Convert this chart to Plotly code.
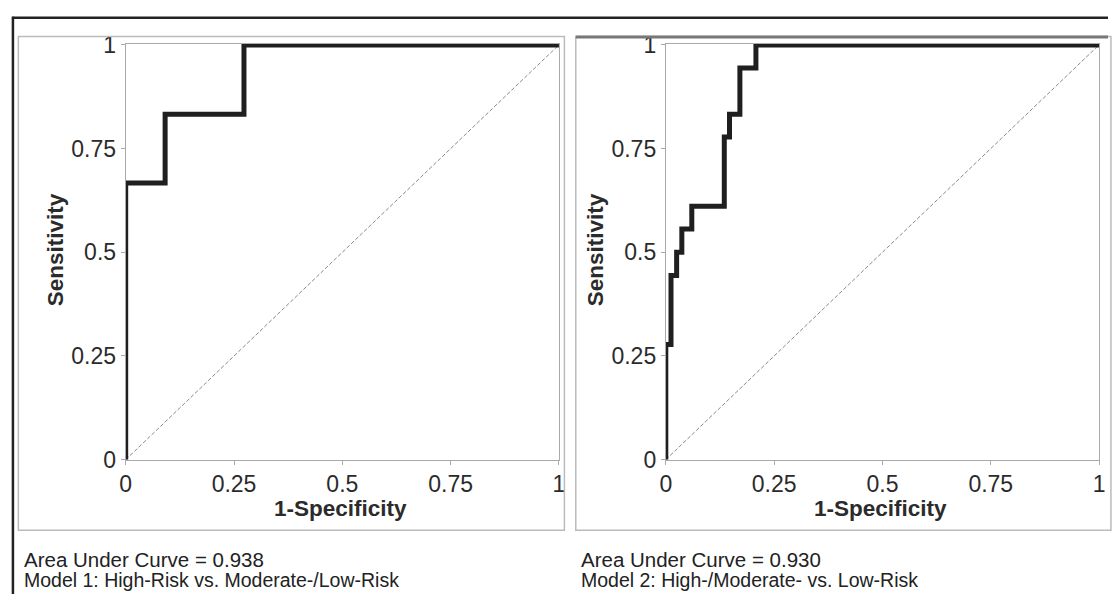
import plotly.graph_objects as go

W, H = 1112, 605

# ---- data ----
tick_vals = [0, 0.25, 0.5, 0.75, 1]
tick_text = ["0", "0.25", "0.5", "0.75", "1"]

fpr_model1 = [0, 0, 0.091, 0.273, 1.0]
tpr_model1 = [0, 0.667, 0.833, 1.0, 1.0]

fpr_model2 = [0, 0, 0.012, 0.025, 0.037, 0.060, 0.135, 0.147, 0.171, 0.208, 1.0]
tpr_model2 = [0, 0.278, 0.444, 0.500, 0.556, 0.611, 0.778, 0.833, 0.944, 1.0, 1.0]

ref_line = [0, 1]

auc_text = ["Area Under Curve = 0.938", "Area Under Curve = 0.930"]
model_text = ["Model 1: High-Risk vs. Moderate-/Low-Risk",
              "Model 2: High-/Moderate- vs. Low-Risk"]
x_title = "1-Specificity"
y_title = "Sensitivity"


def px(x):
    return x / W


def py(y):
    return 1 - y / H


FONT = "Liberation Sans, Arial, sans-serif"
fig = go.Figure()

for i, (fx, ty) in enumerate([(fpr_model1, tpr_model1), (fpr_model2, tpr_model2)]):
    xa = "x" if i == 0 else "x2"
    ya = "y" if i == 0 else "y2"
    fig.add_trace(go.Scatter(x=ref_line, y=ref_line, mode="lines", xaxis=xa, yaxis=ya,
                             line=dict(color="#8a8a8a", width=1, dash="4px,2px"),
                             hoverinfo="skip"))
    fig.add_trace(go.Scatter(x=fx, y=ty, mode="lines", xaxis=xa, yaxis=ya,
                             line=dict(color="#1f1f1f", width=5, shape="hv")))

axis_common = dict(
    showgrid=False, zeroline=False, showline=True, linecolor="#aaaaaa", linewidth=1,
    mirror=True, ticks="outside", ticklen=4, tickcolor="#aaaaaa",
    tickvals=tick_vals, ticktext=tick_text,
    tickfont=dict(family=FONT, size=23, color="#2b2b2b"),
)

fig.update_layout(
    width=W, height=H,
    margin=dict(l=0, r=0, t=0, b=0),
    paper_bgcolor="white", plot_bgcolor="white",
    showlegend=False,
    xaxis=dict(domain=[px(121), px(559)], range=[0, 1], anchor="y", **axis_common),
    yaxis=dict(domain=[py(467), py(33)], range=[0, 1.003], anchor="x", **axis_common),
    xaxis2=dict(domain=[px(667), px(1105)], range=[0, 1], anchor="y2", **axis_common),
    yaxis2=dict(domain=[py(467), py(33)], range=[0, 1.003], anchor="x2", **axis_common),
)

annotations = []
for i, (xc_plot, xc_ytitle, xleft) in enumerate([(338, 50, 16), (884, 596, 579)]):
    annotations.append(dict(text="<b>%s</b>" % x_title, xref="paper", yref="paper",
                            x=px(xc_plot), y=py(518), xanchor="center", yanchor="middle",
                            showarrow=False, font=dict(family=FONT, size=22.5, color="#2b2b2b")))
    annotations.append(dict(text="<b>%s</b>" % y_title, xref="paper", yref="paper",
                            x=px(xc_ytitle), y=py(248), xanchor="center", yanchor="middle",
                            textangle=-90, showarrow=False,
                            font=dict(family=FONT, size=22.5, color="#2b2b2b")))
    annotations.append(dict(text=auc_text[i], xref="paper", yref="paper",
                            x=px(xleft), y=py(571), xanchor="left", yanchor="middle",
                            showarrow=False, font=dict(family=FONT, size=20.5, color="#222222")))
    annotations.append(dict(text=model_text[i], xref="paper", yref="paper",
                            x=px(xleft), y=py(593), xanchor="left", yanchor="middle",
                            showarrow=False, font=dict(family=FONT, size=19.5, color="#222222")))
fig.update_layout(annotations=annotations)

shapes = [
    # outer frame
    dict(type="line", xref="paper", yref="paper", x0=px(7), x1=px(7), y0=py(5), y1=py(H + 2),
         line=dict(color="#222222", width=2.5)),
    dict(type="line", xref="paper", yref="paper", x0=px(6), x1=px(W + 2), y0=py(6), y1=py(6),
         line=dict(color="#222222", width=2.5)),
    # panel boxes
    dict(type="rect", xref="paper", yref="paper", x0=px(12.5), x1=px(564.5), y0=py(540.5), y1=py(25.5),
         line=dict(color="#bbbbbb", width=1.5)),
    dict(type="rect", xref="paper", yref="paper", x0=px(576), x1=px(W + 5), y0=py(540.5), y1=py(25.5),
         line=dict(color="#bbbbbb", width=1.5)),
    dict(type="line", xref="paper", yref="paper", x0=px(576), x1=px(W + 2), y0=py(26), y1=py(26),
         line=dict(color="#777777", width=3)),
]
fig.update_layout(shapes=shapes)

fig.write_html("out.html")
